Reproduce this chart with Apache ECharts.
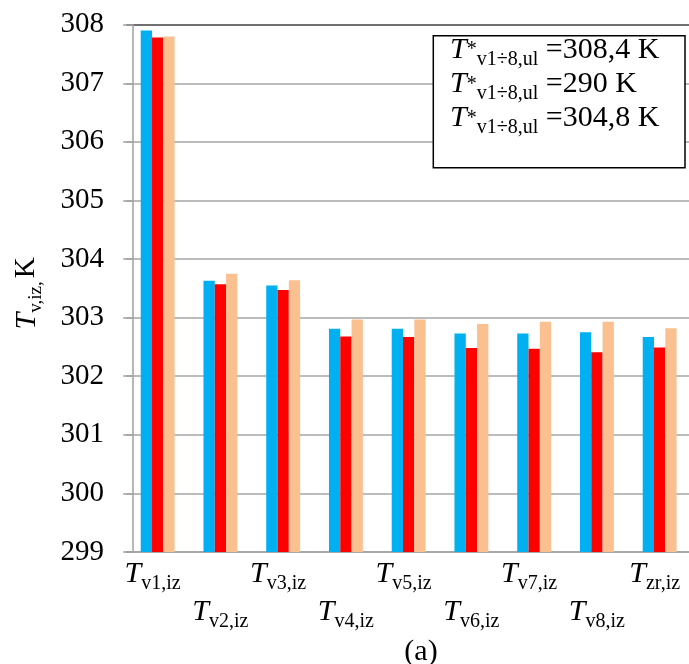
<!DOCTYPE html>
<html>
<head>
<meta charset="utf-8">
<script src="https://cdn.jsdelivr.net/npm/echarts@6/dist/echarts.min.js"></script>
<style>
html,body{margin:0;padding:0;background:#fff;}
#chart{width:689px;height:664px;}
</style>
</head>
<body>
<div id="chart"></div>
<script>
// ---- data ----
const categorySubs = ['v1,iz','v2,iz','v3,iz','v4,iz','v5,iz','v6,iz','v7,iz','v8,iz','zr,iz'];
const seriesValueTexts = ['=308,4 K', '=290 K', '=304,8 K'];
const seriesColors = ['#00B0F0', '#FF0000', '#FAC090'];
const blueValues   = [307.90, 303.63, 303.55, 302.81, 302.81, 302.73, 302.73, 302.75, 302.67];
const redValues    = [307.78, 303.57, 303.47, 302.68, 302.67, 302.48, 302.47, 302.41, 302.49];
const orangeValues = [307.80, 303.75, 303.64, 302.97, 302.97, 302.89, 302.93, 302.93, 302.82];
const yTicks = [299, 300, 301, 302, 303, 304, 305, 306, 307, 308];

const FONT = 'Liberation Serif';
const seriesNames = seriesValueTexts.map(v => 'T*v1÷8,ul ' + v);
const allValues = [blueValues, redValues, orangeValues];

const splitColors = yTicks.map((t, i) => i === yTicks.length - 1 ? '#404040' : '#a6a6a6');

const chart = echarts.init(document.getElementById('chart'), null, {renderer: 'canvas'});
chart.setOption({
  animation: false,
  backgroundColor: '#fff',
  grid: {left: 126.3, top: 24.7, width: 564.75, height: 527.3, containLabel: false, outerBoundsMode: 'none'},
  xAxis: {
    type: 'category',
    data: categorySubs,
    axisLine: {lineStyle: {color: '#a0a0a0', width: 1.5}},
    axisTick: {show: false},
    axisLabel: {
      interval: 0,
      margin: 3.4,
      lineHeight: 38,
      fontSize: 30,
      fontFamily: FONT,
      color: '#000',
      formatter: (v, i) => i % 2 === 0 ? '{t|T}{s|' + v + '}{g|}' : '\n{t|T}{s|' + v + '}',
      rich: {
        t: {fontFamily: FONT, fontStyle: 'italic', fontSize: 30, lineHeight: 38, color: '#000'},
        s: {fontFamily: FONT, fontSize: 20, lineHeight: 17, verticalAlign: 'bottom', color: '#000'},
        g: {width: 10}
      }
    }
  },
  yAxis: {
    type: 'value',
    min: 299, max: 308, interval: 1,
    offset: -6.4,
    name: '{t|T}{s|v,iz,}{n|K}',
    nameLocation: 'middle',
    nameGap: 87,
    nameMoveOverlap: false,
    nameTextStyle: {
      padding: [0, 10, 0, 0],
      rich: {
        t: {fontFamily: FONT, fontStyle: 'italic', fontSize: 30, lineHeight: 38, color: '#000'},
        s: {fontFamily: FONT, fontSize: 19, lineHeight: 17, verticalAlign: 'bottom', color: '#000', padding: [0, 3, 0, 0]},
        n: {fontFamily: FONT, fontSize: 29, lineHeight: 38, color: '#000'}
      }
    },
    axisLine: {show: true, lineStyle: {color: '#a0a0a0', width: 1.5}},
    axisTick: {show: true, length: 9.5, inside: false, lineStyle: {color: '#a0a0a0', width: 1.5}},
    axisLabel: {margin: 28.7, fontFamily: FONT, fontSize: 29, color: '#000',
      formatter: v => String(v)},
    splitLine: {show: true, lineStyle: {color: splitColors, width: 1.5}}
  },
  legend: {
    show: true,
    orient: 'vertical',
    left: 445, top: 35,
    padding: 0,
    itemGap: 0,
    itemWidth: 0, itemHeight: 0,
    icon: 'rect',
    selectedMode: false,
    z: 60,
    data: seriesNames,
    formatter: name => {
      const i = seriesNames.indexOf(name);
      return '{t|T}{p|*}{s|v1÷8,ul}{n| ' + seriesValueTexts[i] + '}';
    },
    textStyle: {
      rich: {
        t: {fontFamily: FONT, fontStyle: 'italic', fontSize: 30, lineHeight: 38.5, color: '#000'},
        p: {fontFamily: FONT, fontSize: 20, color: '#000'},
        s: {fontFamily: FONT, fontSize: 20, lineHeight: 13, verticalAlign: 'bottom', color: '#000'},
        n: {fontFamily: FONT, fontSize: 30, lineHeight: 38.5, color: '#000'}
      }
    }
  },
  graphic: {
    elements: [
      {type: 'rect', z: 50, shape: {x: 433.3, y: 35.7, width: 251.7, height: 132},
       style: {fill: '#fff', stroke: '#000', lineWidth: 1.5}},
      {type: 'text', z: 50, x: 421, y: 652,
       style: {text: '(a)', font: '30px "Liberation Serif"', fill: '#000',
               textAlign: 'center', textVerticalAlign: 'middle', verticalAlign: 'middle'}}
    ]
  },
  series: allValues.map((vals, k) => ({
    name: seriesNames[k],
    type: 'bar',
    data: vals,
    barWidth: 11.3,
    barGap: '0%',
    itemStyle: {color: seriesColors[k]}
  }))
});
</script>
</body>
</html>
